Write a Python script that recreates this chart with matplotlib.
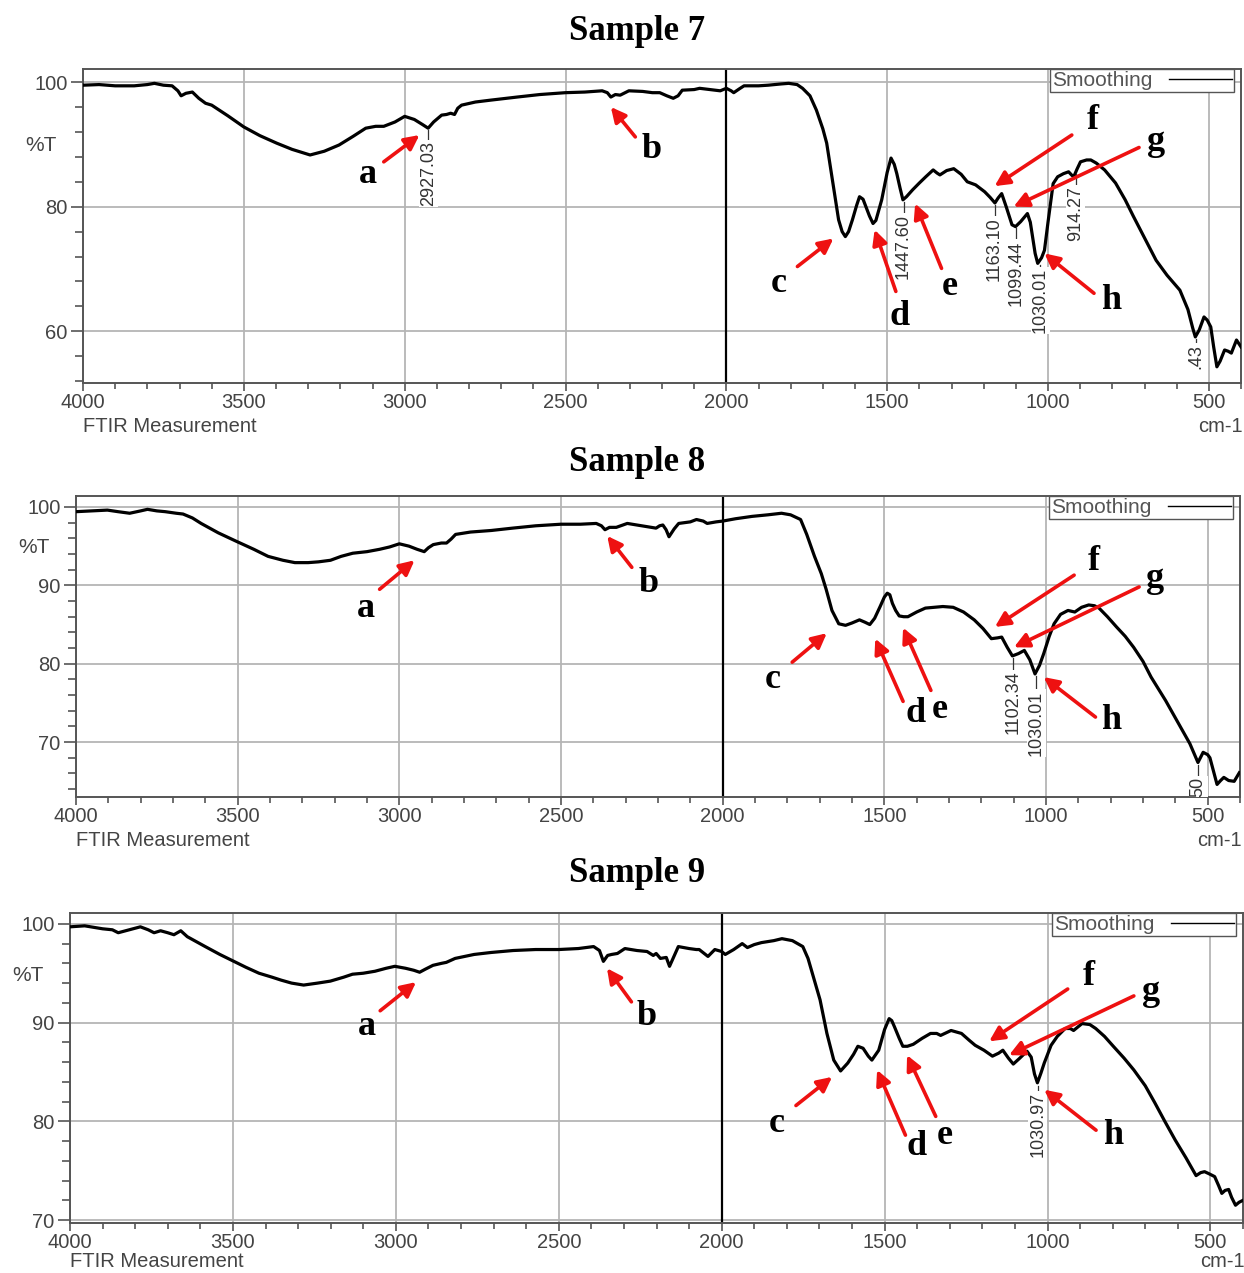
import matplotlib
matplotlib.use('Agg')
import matplotlib.pyplot as plt
from matplotlib.ticker import MultipleLocator, FixedLocator
from matplotlib.lines import Line2D
import matplotlib.transforms as mtransforms

plt.rcParams['font.family'] = ['Liberation Sans', 'DejaVu Sans']

# ---- spectra (wavenumber cm-1, %T) ----
wn7 = [4000, 3950, 3900, 3841, 3800, 3778, 3750, 3723, 3705, 3695, 3680, 3660, 3640, 3619, 3600,
       3550, 3500, 3450, 3398, 3350, 3294, 3250, 3204, 3160, 3121, 3090, 3065, 3030, 3000, 2970,
       2945, 2927, 2910, 2885, 2870, 2857, 2845, 2835, 2823, 2780, 2733, 2650, 2580, 2500, 2440,
       2386, 2370, 2359, 2345, 2330, 2303, 2260, 2230, 2207, 2185, 2165, 2150, 2137, 2100, 2083,
       2050, 2019, 2000, 1985, 1977, 1960, 1945, 1900, 1870, 1830, 1806, 1780, 1763, 1740, 1720,
       1700, 1688, 1667, 1651, 1640, 1630, 1620, 1608, 1595, 1586, 1575, 1566, 1555, 1544, 1535,
       1517, 1500, 1488, 1478, 1470, 1460, 1451, 1440, 1421, 1400, 1380, 1357, 1345, 1336, 1315,
       1293, 1270, 1251, 1225, 1197, 1180, 1165, 1155, 1144, 1130, 1112, 1101, 1085, 1064, 1055,
       1048, 1040, 1032, 1020, 1011, 1000, 984, 970, 952, 936, 925, 920, 910, 899, 880,
       867, 850, 824, 790, 760, 735, 707, 685, 664, 630, 590, 565, 550, 542, 530,
       515, 505, 494, 485, 475, 465, 451, 440, 430, 420, 414, 400]
t7 = [99.5, 99.6, 99.4, 99.4, 99.6, 99.8, 99.5, 99.4, 98.6, 97.8, 98.2, 98.4, 97.4, 96.6, 96.3,
      94.6, 92.8, 91.4, 90.2, 89.2, 88.3, 88.9, 89.9, 91.3, 92.6, 92.9, 92.9, 93.6, 94.5, 94.0,
      93.2, 92.6, 93.6, 94.7, 94.8, 95.0, 94.8, 95.8, 96.3, 96.8, 97.1, 97.6, 98.0, 98.3, 98.4,
      98.6, 98.3, 97.6, 98.0, 97.9, 98.6, 98.5, 98.3, 98.3, 97.8, 97.4, 97.8, 98.7, 98.8, 99.0,
      98.8, 98.6, 99.0, 98.6, 98.3, 98.9, 99.4, 99.4, 99.5, 99.7, 99.8, 99.6, 99.0, 97.8, 95.5,
      92.5, 90.2, 83.2, 77.9, 76.0, 75.2, 76.0, 77.9, 80.2, 81.6, 81.2, 80.0, 78.5, 77.3, 77.8,
      81.1, 85.5, 87.8, 86.8, 85.3, 83.0, 81.1, 81.6, 82.7, 83.8, 84.8, 85.9, 85.4, 85.1, 85.8,
      86.1, 85.2, 84.0, 83.5, 82.4, 81.5, 80.6, 81.4, 82.1, 80.0, 77.1, 76.8, 77.6, 78.9, 77.5,
      75.2, 72.5, 70.9, 71.8, 73.0, 77.5, 83.7, 84.8, 85.3, 85.6, 85.0, 84.8, 86.0, 87.2, 87.5,
      87.5, 87.0, 85.9, 83.8, 81.1, 78.5, 75.7, 73.5, 71.4, 69.0, 66.6, 63.5, 60.5, 59.1, 60.2,
      62.3, 61.8, 60.7, 57.5, 54.3, 55.2, 57.0, 56.8, 56.5, 57.8, 58.6, 57.5]

wn8 = [4000, 3950, 3903, 3870, 3834, 3800, 3779, 3750, 3724, 3690, 3669, 3640, 3613, 3560, 3503,
       3450, 3406, 3360, 3323, 3282, 3250, 3213, 3180, 3144, 3100, 3061, 3030, 3000, 2970, 2945,
       2923, 2910, 2895, 2870, 2854, 2840, 2826, 2780, 2716, 2650, 2578, 2500, 2440, 2391, 2375,
       2364, 2350, 2329, 2295, 2250, 2206, 2195, 2185, 2175, 2166, 2150, 2136, 2100, 2081, 2060,
       2048, 2020, 2000, 1960, 1909, 1860, 1818, 1790, 1759, 1740, 1716, 1695, 1680, 1662, 1641,
       1620, 1600, 1577, 1560, 1545, 1530, 1513, 1500, 1491, 1483, 1475, 1465, 1454, 1440, 1427,
       1400, 1373, 1345, 1319, 1287, 1255, 1222, 1195, 1169, 1150, 1137, 1120, 1104, 1085, 1067,
       1050, 1034, 1020, 1007, 990, 975, 955, 932, 911, 890, 868, 850, 836, 810, 782,
       755, 729, 700, 675, 630, 589, 555, 530, 514, 500, 493, 480, 471, 460, 450,
       435, 418, 402]
t8 = [99.4, 99.5, 99.6, 99.4, 99.2, 99.5, 99.7, 99.5, 99.4, 99.2, 99.1, 98.6, 97.9, 96.7, 95.6,
      94.6, 93.7, 93.2, 92.9, 92.9, 93.0, 93.2, 93.7, 94.1, 94.3, 94.6, 94.9, 95.3, 95.0, 94.6,
      94.3, 94.8, 95.2, 95.4, 95.4, 95.9, 96.5, 96.8, 97.0, 97.3, 97.6, 97.8, 97.8, 97.9, 97.6,
      97.1, 97.4, 97.4, 97.9, 97.6, 97.3, 97.6, 97.7, 97.1, 96.2, 97.2, 97.9, 98.1, 98.4, 98.2,
      97.9, 98.1, 98.2, 98.5, 98.8, 99.0, 99.2, 99.0, 98.4, 96.5, 93.7, 91.5, 89.5, 86.8, 85.1,
      84.9, 85.2, 85.6, 85.3, 85.0, 85.8, 87.3, 88.5, 89.0, 88.8, 87.7, 86.8, 86.1, 86.0, 86.0,
      86.6, 87.1, 87.2, 87.3, 87.2, 86.6, 85.6, 84.5, 83.2, 83.3, 83.4, 82.1, 81.0, 81.3, 81.7,
      80.5, 78.7, 79.8, 81.3, 83.5, 85.1, 86.3, 86.8, 86.6, 87.2, 87.5, 87.4, 87.1, 86.0, 84.7,
      83.5, 82.1, 80.3, 78.3, 75.3, 72.3, 69.8, 67.4, 68.7, 68.4, 68.0, 66.0, 64.6, 65.1, 65.5,
      65.1, 65.0, 66.1]

wn9 = [4000, 3955, 3900, 3870, 3852, 3818, 3784, 3760, 3742, 3722, 3700, 3681, 3660, 3640, 3585,
       3540, 3503, 3460, 3420, 3380, 3352, 3320, 3283, 3240, 3201, 3160, 3133, 3100, 3064, 3030,
       3003, 2970, 2945, 2927, 2910, 2886, 2860, 2845, 2818, 2760, 2708, 2640, 2571, 2500, 2440,
       2393, 2375, 2363, 2350, 2338, 2320, 2297, 2260, 2229, 2210, 2201, 2188, 2170, 2160, 2145,
       2133, 2100, 2078, 2069, 2042, 2021, 2000, 1989, 1963, 1937, 1921, 1900, 1878, 1840, 1815,
       1783, 1751, 1735, 1719, 1698, 1677, 1656, 1635, 1613, 1595, 1582, 1566, 1550, 1539, 1518,
       1500, 1486, 1478, 1470, 1455, 1444, 1430, 1412, 1385, 1359, 1340, 1328, 1296, 1264, 1240,
       1222, 1195, 1169, 1150, 1137, 1120, 1105, 1085, 1063, 1050, 1040, 1031, 1020, 1010, 989,
       970, 946, 930, 920, 905, 894, 870, 852, 825, 798, 765, 735, 700, 671, 640,
       608, 575, 544, 530, 518, 505, 487, 475, 465, 455, 444, 435, 423, 412, 400]
t9 = [99.7, 99.8, 99.5, 99.4, 99.1, 99.4, 99.7, 99.4, 99.1, 99.3, 99.1, 98.9, 99.3, 98.7, 97.7,
      96.9, 96.3, 95.6, 95.0, 94.6, 94.3, 94.0, 93.8, 94.0, 94.2, 94.6, 94.9, 95.0, 95.2, 95.5,
      95.7, 95.5, 95.3, 95.1, 95.4, 95.8, 96.0, 96.1, 96.5, 96.9, 97.1, 97.3, 97.4, 97.4, 97.5,
      97.7, 97.3, 96.2, 96.8, 96.9, 97.0, 97.5, 97.3, 97.2, 96.8, 97.0, 96.5, 96.6, 95.7, 96.8,
      97.7, 97.5, 97.4, 97.4, 96.7, 97.4, 97.2, 96.9, 97.4, 98.0, 97.6, 97.9, 98.1, 98.3, 98.5,
      98.3, 97.7, 96.5, 94.7, 92.3, 88.9, 86.2, 85.1, 85.9, 86.8, 87.6, 87.4, 86.6, 86.2, 87.2,
      89.3, 90.4, 90.2, 89.6, 88.4, 87.6, 87.6, 87.8, 88.4, 88.9, 88.9, 88.7, 89.2, 88.9, 88.2,
      87.7, 87.2, 86.6, 86.9, 87.2, 86.4, 85.8, 86.4, 87.1, 86.5, 84.8, 83.9, 84.9, 85.9, 87.7,
      88.6, 89.4, 89.4, 89.2, 89.6, 89.9, 89.8, 89.4, 88.6, 87.6, 86.4, 85.2, 83.6, 81.9, 80.0,
      78.1, 76.3, 74.5, 74.8, 74.9, 74.7, 74.4, 73.5, 72.7, 73.0, 73.1, 72.3, 71.5, 71.8, 72.0]

titles = ['Sample 7', 'Sample 8', 'Sample 9']

# peak labels: (text, x, y on curve, y of label top); the last label of the first
# two panels runs into the frame in the original, only its tail is visible
peaks7 = [('2927.03', 2927, 92.6, 90.6), ('1447.60', 1449, 81.1, 78.9), ('1163.10', 1166, 80.6, 78.3),
          ('1099.44', 1100, 76.8, 74.6), ('1030.01', 1024, 70.9, 70.2), ('914.27', 914, 85.5, 83.3),
          ('.43', 541, 59.1, 58.0)]
peaks8 = [('1102.34', 1102, 81.0, 79.1), ('1030.01', 1030, 78.7, 76.6), ('50', 529, 67.4, 65.6)]
peaks9 = [('1030.97', 1030, 83.9, 83.0)]

# letters: (letter, text x, text y, arrow tail x, y, arrow head x, y)
marks7 = [('a', 3114, 85.1, 3065, 87.2, 2954, 91.5), ('b', 2231, 89.1, 2283, 91.2, 2359, 96.0),
          ('c', 1838, 67.7, 1779, 70.4, 1667, 74.9), ('d', 1461, 62.4, 1473, 66.4, 1539, 76.3),
          ('e', 1304, 67.2, 1331, 70.1, 1413, 80.5), ('f', 862, 93.9, 926, 91.5, 1166, 83.3),
          ('g', 664, 90.4, 717, 89.5, 1107, 80.0), ('h', 803, 65.0, 857, 66.1, 1011, 72.5)]
marks8 = [('a', 3102, 87.1, 3061, 89.5, 2953, 93.2), ('b', 2230, 90.3, 2281, 92.3, 2357, 96.3),
          ('c', 1844, 78.0, 1785, 80.2, 1678, 83.9), ('d', 1404, 73.7, 1442, 75.2, 1528, 83.2),
          ('e', 1329, 74.2, 1356, 76.6, 1442, 84.6), ('f', 852, 93.0, 913, 91.3, 1158, 84.7),
          ('g', 664, 90.9, 712, 89.8, 1099, 82.1), ('h', 798, 72.7, 847, 73.2, 1007, 78.3)]
marks9 = [('a', 3089, 89.6, 3048, 91.2, 2938, 94.1), ('b', 2229, 90.6, 2277, 92.1, 2352, 95.5),
          ('c', 1831, 79.8, 1772, 81.6, 1661, 84.5), ('d', 1402, 77.4, 1436, 78.6, 1523, 85.2),
          ('e', 1315, 78.6, 1343, 80.5, 1431, 86.7), ('f', 874, 94.7, 938, 93.4, 1179, 88.1),
          ('g', 682, 93.1, 735, 92.7, 1118, 86.7), ('h', 798, 78.6, 851, 79.1, 1010, 83.2)]

W, H = 1244, 1273
fig = plt.figure(figsize=(W / 100, H / 100), dpi=100)

GRAY = '#444444'
RED = '#ee1111'


def add_panel(left, top, right, bottom, ylim, ymajor, yminor, pct_y, foot=-31):
    ax = fig.add_axes([left / W, 1 - bottom / H, (right - left) / W, (bottom - top) / H])
    ax.set_xlim(4000, 400)
    ax.set_ylim(*ylim)
    ax.xaxis.set_major_locator(FixedLocator([4000, 3500, 3000, 2500, 2000, 1500, 1000, 500]))
    ax.xaxis.set_minor_locator(MultipleLocator(100))
    ax.yaxis.set_major_locator(MultipleLocator(ymajor))
    ax.yaxis.set_minor_locator(MultipleLocator(yminor))
    ax.tick_params(which='major', length=9, width=1.2, color='#555555', labelsize=14.5,
                   labelcolor=GRAY, pad=2)
    ax.tick_params(which='minor', length=6, width=1.2, color='#555555')
    ax.tick_params(axis='x', which='major', length=6, pad=1)
    ax.tick_params(axis='x', which='minor', length=4)
    ax.grid(True, which='major', color='#b5b5b5', lw=1.3)
    ax.set_axisbelow(True)
    ax.axvline(2000, color='black', lw=1.6, zorder=1.5)
    for s in ax.spines.values():
        s.set_color('#555555')
        s.set_linewidth(1.4)
    tr = mtransforms.blended_transform_factory(ax.transAxes, ax.transData)
    ax.text(-42 / (right - left), pct_y, '%T', transform=tr, ha='center', va='center',
            fontsize=15, color=GRAY)
    ax.annotate('FTIR Measurement', xy=(0, 0), xycoords='axes fraction', xytext=(0, foot),
                textcoords='offset points', ha='left', va='center', fontsize=14.5, color=GRAY)
    ax.annotate('cm-1', xy=(1, 0), xycoords='axes fraction', xytext=(1, foot),
                textcoords='offset points', ha='right', va='center', fontsize=14.5, color=GRAY)
    ax.legend(handles=[Line2D([], [], color='black', lw=1)], labels=['Smoothing'],
              loc='upper right', bbox_to_anchor=(1 - 7 / (right - left), 1.0),
              markerfirst=False, fancybox=False, framealpha=1, edgecolor='#555555',
              borderaxespad=0, borderpad=0.1, handlelength=3, fontsize=15, labelcolor='#555555')
    return ax


def draw(ax, wn, t, peaks, marks):
    ax.plot(wn, t, color='black', lw=2.3, zorder=3)
    for lab, x, yc, ytop in peaks:
        ax.plot([x, x], [yc - 0.3, ytop], color='#333333', lw=0.9, zorder=3)
        ax.text(x, ytop, lab, rotation=90, ha='center', va='top', fontsize=13, color='#333333',
                clip_on=True, zorder=4, bbox=dict(fc='white', ec='none', pad=0.6))
    for let, tx, ty, x0, y0, x1, y1 in marks:
        ax.annotate('', xy=(x1, y1), xytext=(x0, y0), zorder=5,
                    arrowprops=dict(arrowstyle='-|>', color=RED, lw=2.6, mutation_scale=22,
                                    shrinkA=0, shrinkB=0))
        ax.text(tx, ty, let, ha='center', va='center', fontsize=26, fontweight='bold',
                family='Liberation Serif', color='black', zorder=5)


ax1 = add_panel(83, 69, 1241, 383, (51.7, 102.1), 20, 4, 89.9)
draw(ax1, wn7, t7, peaks7, marks7)
ax2 = add_panel(76, 496, 1240, 797, (63.0, 101.4), 10, 2, 94.8)
draw(ax2, wn8, t8, peaks8, marks8)
ax3 = add_panel(70, 913, 1243, 1223, (69.7, 101.1), 10, 2, 94.8, foot=-28)
draw(ax3, wn9, t9, peaks9, marks9)

for ty, title in zip([32, 462, 873], titles):
    fig.text(637 / W, 1 - ty / H, title, ha='center', va='center', fontsize=25,
             fontweight='bold', family='Liberation Serif')

fig.savefig('out.png', dpi=100)
